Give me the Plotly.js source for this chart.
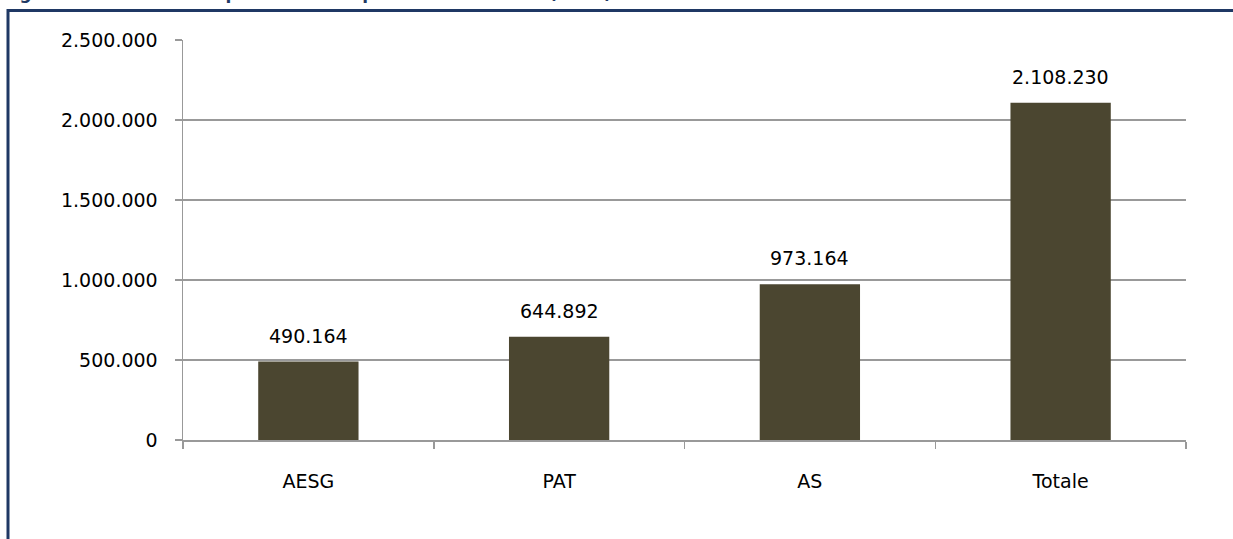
<!DOCTYPE html>
<html>
<head>
<meta charset="utf-8">
<script src="https://cdn.plot.ly/plotly-3.0.1.min.js"></script>
<style>
  html, body { margin: 0; padding: 0; background: #ffffff; }
  #chart { width: 1233px; height: 539px; }
</style>
</head>
<body>
<div id="chart"></div>
<script>
const categories = ["AESG", "PAT", "AS", "Totale"];
const values = [490164, 644892, 973164, 2108230];
const chartTitle = "Figura 2.3 – Numero di professionisti per area di attività (2009)";

const W = 1233, H = 539;
const L = 183, R = 47, T = 40, B = 99;
const pw = W - L - R, ph = H - T - B;
const px = x => (x - L) / pw;
const py = y => (H - B - y) / ph;
const frameColor = "#1f3864";
const FONT = "DejaVu Sans";
const FS = 19;

const fmt = v => String(v).replace(/\B(?=(\d{3})+(?!\d))/g, ".");

const trace = {
  type: "bar",
  x: categories,
  y: values,
  marker: { color: "#4b4630", line: { width: 0 } },
  hoverinfo: "skip"
};

const valueLabels = categories.map((c, i) => ({
  text: fmt(values[i]),
  xref: "x", yref: "y",
  x: c, y: values[i],
  xanchor: "center", yanchor: "bottom",
  yshift: 13,
  showarrow: false,
  font: { family: FONT, size: FS, color: "#000000" }
}));

const layout = {
  width: W, height: H,
  margin: { l: L, r: R, t: T, b: B, pad: 0 },
  paper_bgcolor: "#ffffff",
  plot_bgcolor: "#ffffff",
  separators: ",.",
  showlegend: false,
  bargap: 0.6,
  font: { family: FONT, size: FS, color: "#000000" },
  xaxis: {
    type: "category",
    showgrid: false,
    showline: true,
    linecolor: "#999999",
    linewidth: 1.5,
    ticks: "outside",
    tickson: "boundaries",
    ticklen: 7,
    tickwidth: 1.5,
    tickcolor: "#999999",
    ticklabelstandoff: 24,
    tickfont: { family: FONT, size: FS, color: "#000000" },
    zeroline: false
  },
  yaxis: {
    range: [0, 2500000],
    dtick: 500000,
    tick0: 0,
    tickformat: ",d",
    showgrid: true,
    gridcolor: "#999999",
    gridwidth: 1.5,
    showline: true,
    linecolor: "#999999",
    linewidth: 1.5,
    ticks: "outside",
    ticklen: 7,
    tickwidth: 1.5,
    tickcolor: "#999999",
    ticklabelstandoff: 13,
    tickfont: { family: FONT, size: FS, color: "#000000" },
    zeroline: false
  },
  annotations: valueLabels.concat([{
    text: "<b>" + chartTitle + "</b>",
    xref: "paper", yref: "paper",
    x: px(0), y: py(5),
    xanchor: "left", yanchor: "bottom",
    showarrow: false,
    font: { family: FONT, size: 17, color: frameColor }
  }]),
  shapes: [
    { type: "line", xref: "paper", yref: "paper", x0: px(8), x1: px(8), y0: py(9), y1: py(545), line: { color: frameColor, width: 3 } },
    { type: "line", xref: "paper", yref: "paper", x0: px(7), x1: px(1240), y0: py(10.5), y1: py(10.5), line: { color: frameColor, width: 3 } }
  ]
};

Plotly.newPlot("chart", [trace], layout, { displayModeBar: false, staticPlot: true });
</script>
</body>
</html>
